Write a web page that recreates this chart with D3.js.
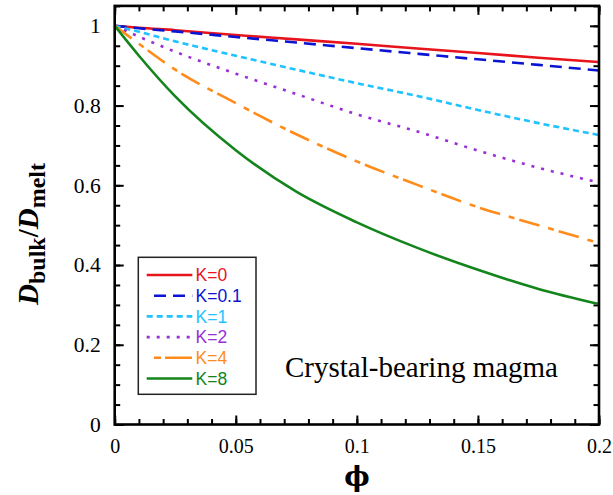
<!DOCTYPE html>
<html>
<head>
<meta charset="utf-8">
<script src="https://cdn.jsdelivr.net/npm/d3@7"></script>
<style>
  body { margin: 0; background: #fff; }
  svg { display: block; }
</style>
</head>
<body>
<script>
var phi = [0, 0.01, 0.025, 0.05, 0.075, 0.1, 0.125, 0.15, 0.175, 0.2];

// D_bulk / D_melt for each K
var k0   = [1, 0.995, 0.989, 0.977, 0.966, 0.955, 0.943, 0.932, 0.920, 0.909];
var k01  = [1, 0.994, 0.986, 0.972, 0.958, 0.944, 0.930, 0.916, 0.902, 0.888];
var k1   = [1, 0.985, 0.961, 0.925, 0.890, 0.856, 0.824, 0.789, 0.756, 0.726];
var k2   = [1, 0.973, 0.935, 0.880, 0.829, 0.778, 0.735, 0.687, 0.644, 0.607];
var k4   = [1, 0.955, 0.890, 0.806, 0.728, 0.660, 0.601, 0.545, 0.500, 0.455];
var k8   = [1, 0.925, 0.823, 0.688, 0.584, 0.507, 0.443, 0.388, 0.340, 0.302];

var labels = ["K=0", "K=0.1", "K=1", "K=2", "K=4", "K=8"];
var colors = ["#e8141b", "#0a14d2", "#1ec3ff", "#9b2fd6", "#ff8c1a", "#13851c"];
var dashes = [null, "12,7", "6,4", "3,7", "21,9,6,5", null];

var xTicks = [0, 0.05, 0.1, 0.15, 0.2];
var yTicks = [0, 0.2, 0.4, 0.6, 0.8, 1];

var width = 613;
var height = 495;

var svg = d3.select("body").append("svg")
  .attr("width", width)
  .attr("height", height);

var x = d3.scaleLinear().domain([0, 0.2]).range([114.7, 599]);
var y = d3.scaleLinear().domain([0, 1.05]).range([424.5, 5.9]);

var tickFont = "'Liberation Serif', 'Times New Roman', serif";

// minor ticks (all four sides)
var xMinor = d3.range(0, 0.2001, 0.01);
var yMinor = d3.range(0, 1.051, 0.05);

function styleAxis(size) {
  return function(g) {
    g.select(".domain").remove();
    g.selectAll("line").attr("stroke", "#000").attr("stroke-width", 2);
    g.selectAll("text").style("font-family", tickFont).style("font-size", size).attr("fill", "#000");
  };
}

svg.append("g").attr("transform", "translate(0," + y(0) + ")")
  .call(d3.axisBottom(x).tickValues(xMinor).tickSize(-5.5).tickFormat(""))
  .call(styleAxis("20px"));
svg.append("g").attr("transform", "translate(0," + y(1.05) + ")")
  .call(d3.axisTop(x).tickValues(xMinor).tickSize(-5.5).tickFormat(""))
  .call(styleAxis("20px"));
svg.append("g").attr("transform", "translate(" + x(0) + ",0)")
  .call(d3.axisLeft(y).tickValues(yMinor).tickSize(-5.5).tickFormat(""))
  .call(styleAxis("20px"));
svg.append("g").attr("transform", "translate(" + x(0.2) + ",0)")
  .call(d3.axisRight(y).tickValues(yMinor).tickSize(-5.5).tickFormat(""))
  .call(styleAxis("20px"));

// major ticks with labels
svg.append("g").attr("transform", "translate(0," + y(0) + ")")
  .call(d3.axisBottom(x).tickValues(xTicks).tickSize(-9).tickPadding(14).tickFormat(d3.format("")))
  .call(styleAxis("20px"));
svg.append("g").attr("transform", "translate(0," + y(1.05) + ")")
  .call(d3.axisTop(x).tickValues(xTicks).tickSize(-9).tickFormat(""))
  .call(styleAxis("20px"));
svg.append("g").attr("transform", "translate(" + x(0) + ",0)")
  .call(d3.axisLeft(y).tickValues(yTicks).tickSize(-9).tickPadding(14).tickFormat(d3.format("")))
  .call(styleAxis("21.5px"));
svg.append("g").attr("transform", "translate(" + x(0.2) + ",0)")
  .call(d3.axisRight(y).tickValues(yTicks).tickSize(-9).tickFormat(""))
  .call(styleAxis("20px"));

// curves
var series = [k0, k01, k1, k2, k4, k8];
var line = d3.line()
  .x(function(d, i) { return x(phi[i]); })
  .y(function(d) { return y(d); })
  .curve(d3.curveMonotoneX);

svg.append("defs").append("clipPath").attr("id", "plotclip")
  .append("rect")
  .attr("x", x(0)).attr("y", y(1.05))
  .attr("width", x(0.2) - x(0)).attr("height", y(0) - y(1.05));

svg.append("g").attr("clip-path", "url(#plotclip)")
  .selectAll("path")
  .data(series)
  .enter().append("path")
  .attr("d", line)
  .attr("fill", "none")
  .attr("stroke", function(d, i) { return colors[i]; })
  .attr("stroke-width", 2.6)
  .attr("stroke-dasharray", function(d, i) { return dashes[i]; });

// frame
svg.append("rect")
  .attr("x", x(0)).attr("y", y(1.05))
  .attr("width", x(0.2) - x(0)).attr("height", y(0) - y(1.05))
  .attr("fill", "none")
  .attr("stroke", "#000")
  .attr("stroke-width", 2.6);

// legend
var legend = svg.append("g");
legend.append("rect")
  .attr("x", 138.3).attr("y", 257.3)
  .attr("width", 117.7).attr("height", 137)
  .attr("fill", "#fff")
  .attr("stroke", "#222")
  .attr("stroke-width", 1.5);

var rows = legend.selectAll("g.row")
  .data(labels)
  .enter().append("g")
  .attr("class", "row")
  .attr("transform", function(d, i) { return "translate(0," + (275 + i * 20.7) + ")"; });

rows.append("line")
  .attr("x1", function(d, i) { return (i == 1 || i == 4) ? 154 : 146.7; })
  .attr("x2", 192.3)
  .attr("y1", 0).attr("y2", 0)
  .attr("stroke", function(d, i) { return colors[i]; })
  .attr("stroke-width", 2.6)
  .attr("stroke-dasharray", function(d, i) {
    if (i == 4) return "7,4,27";
    return dashes[i];
  });

rows.append("text")
  .attr("x", 195.5)
  .attr("y", 0)
  .attr("dy", "0.36em")
  .attr("fill", function(d, i) { return colors[i]; })
  .style("font-family", "'Liberation Sans', Arial, sans-serif")
  .style("font-size", "17.5px")
  .text(function(d) { return d; });

// annotation
svg.append("text")
  .attr("x", 285)
  .attr("y", 377)
  .style("font-family", tickFont)
  .style("font-size", "29px")
  .text("Crystal-bearing magma");

// axis titles
svg.append("text")
  .attr("x", 357)
  .attr("y", 486)
  .attr("text-anchor", "middle")
  .style("font-family", "'DejaVu Serif', 'Liberation Serif', serif")
  .style("font-weight", "bold")
  .style("font-size", "27px")
  .text("\u03D5");

var yTitle = svg.append("text")
  .attr("transform", "translate(38,234) rotate(-90)")
  .attr("text-anchor", "middle")
  .style("font-family", tickFont)
  .style("font-weight", "bold")
  .style("font-size", "29px");
yTitle.append("tspan").style("font-style", "italic").text("D");
yTitle.append("tspan").attr("dy", 7).style("font-size", "24px").text("bulk");
yTitle.append("tspan").attr("dy", -7).text("/");
yTitle.append("tspan").style("font-style", "italic").text("D");
yTitle.append("tspan").attr("dy", 7).style("font-size", "24px").text("melt");
</script>
</body>
</html>
